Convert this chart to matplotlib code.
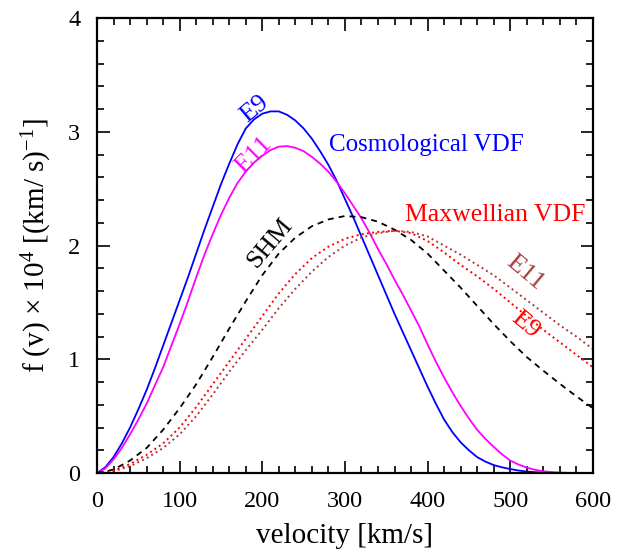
import numpy as np
import matplotlib
matplotlib.use('Agg')
import matplotlib.pyplot as plt
from matplotlib.ticker import MultipleLocator

plt.rcParams['font.family'] = ['Liberation Serif', 'DejaVu Serif']
plt.rcParams['mathtext.fontset'] = 'custom'
plt.rcParams['mathtext.rm'] = 'Liberation Serif'
plt.rcParams['mathtext.it'] = 'Liberation Serif:italic'

# fine velocity grid (km/s) for the cosmological curves
VEL_FINE = [0, 10, 20, 30, 40, 50, 60, 70, 80, 90, 100, 110, 120, 130, 140,
            150, 160, 170, 180, 190, 200, 210, 220, 230, 240, 250, 260, 270,
            280, 290, 300, 310, 320, 330, 340, 350, 360, 370, 380, 390, 400,
            410, 420, 430, 440, 450, 460, 470, 480, 490, 500, 510, 520, 530,
            540, 550, 560, 570, 580, 590, 600]
# coarser grid for the SHM / Maxwellian curves
VEL = [0, 20, 40, 60, 80, 100, 120, 140, 160, 180, 200, 220, 240, 260, 280,
       300, 320, 340, 360, 380, 400, 420, 440, 460, 480, 500, 520, 540, 560,
       580, 600]

# f(v) x 10^4 values
COSMO_E9 = [0, 0.05, 0.14, 0.26, 0.40, 0.56, 0.73, 0.92, 1.12, 1.32, 1.52,
            1.72, 1.93, 2.14, 2.34, 2.54, 2.72, 2.89, 3.03, 3.11, 3.16, 3.18,
            3.18, 3.15, 3.10, 3.03, 2.94, 2.83, 2.71, 2.57, 2.41, 2.25, 2.08,
            1.91, 1.74, 1.57, 1.40, 1.24, 1.08, 0.92, 0.76, 0.61, 0.47, 0.36,
            0.27, 0.20, 0.14, 0.10, 0.07, 0.05, 0.035, 0.022, 0.013, 0.007,
            0.003, 0.001, 0, 0, 0, 0, 0]
COSMO_E11 = [0, 0.04, 0.12, 0.22, 0.34, 0.47, 0.61, 0.77, 0.93, 1.12, 1.31,
             1.51, 1.72, 1.92, 2.10, 2.27, 2.42, 2.55, 2.65, 2.73, 2.79, 2.84,
             2.87, 2.875, 2.86, 2.83, 2.78, 2.72, 2.65, 2.56, 2.46, 2.35,
             2.24, 2.11, 1.97, 1.84, 1.70, 1.57, 1.43, 1.29, 1.13, 0.98, 0.84,
             0.71, 0.59, 0.48, 0.38, 0.30, 0.23, 0.165, 0.11, 0.075, 0.048,
             0.028, 0.015, 0.008, 0.004, 0.001, 0, 0, 0]
SHM = [0, 0.03, 0.11, 0.22, 0.38, 0.57, 0.78, 1.02, 1.27, 1.51, 1.74, 1.93,
       2.07, 2.17, 2.23, 2.26, 2.25, 2.21, 2.14, 2.05, 1.93, 1.78, 1.63, 1.47,
       1.31, 1.16, 1.02, 0.90, 0.785, 0.675, 0.57]
MAXW_E9 = [0, 0.02, 0.08, 0.16, 0.26, 0.40, 0.58, 0.78, 0.98, 1.18, 1.38,
           1.58, 1.75, 1.89, 1.99, 2.06, 2.10, 2.12, 2.13, 2.11, 2.04, 1.94,
           1.83, 1.73, 1.62, 1.50, 1.38, 1.26, 1.15, 1.04, 0.93]
MAXW_E11 = [0, 0.015, 0.06, 0.13, 0.22, 0.34, 0.50, 0.69, 0.89, 1.08, 1.26,
            1.45, 1.62, 1.77, 1.90, 2.00, 2.07, 2.11, 2.13, 2.12, 2.08, 2.00,
            1.92, 1.83, 1.74, 1.63, 1.52, 1.41, 1.30, 1.20, 1.09]

BROWN = '#a83c3c'

fig = plt.figure(figsize=(6.26, 5.5), dpi=100)
ax = fig.add_axes([0.155, 0.14, 0.792, 0.827])

ax.plot(VEL_FINE, COSMO_E9, color='#0000ff', lw=1.3)
ax.plot(VEL_FINE, COSMO_E11, color='#ff00ff', lw=1.3)
ax.plot(VEL, SHM, color='black', lw=1.3, linestyle=(0, (3.3, 2.8)))
ax.plot(VEL, MAXW_E11, color=BROWN, lw=1.4, linestyle=(0, (1, 1.7)))
ax.plot(VEL, MAXW_E9, color='#ff0000', lw=1.4, linestyle=(0, (1, 1.7)))

ax.set_xlim(0, 600)
ax.set_ylim(0, 4)
ax.xaxis.set_major_locator(MultipleLocator(100))
ax.xaxis.set_minor_locator(MultipleLocator(20))
ax.yaxis.set_major_locator(MultipleLocator(1))
ax.yaxis.set_minor_locator(MultipleLocator(0.2))
ax.tick_params(which='both', direction='in', top=True, right=True,
               labelsize=17.5, width=1.2)
ax.tick_params(which='major', length=9)
ax.tick_params(which='minor', length=5)
ax.tick_params(axis='x', which='major', pad=13)
ax.tick_params(axis='y', which='major', pad=12)
for sp in ax.spines.values():
    sp.set_linewidth(1.6)

ax.set_xlabel('velocity [km/s]', fontsize=21, labelpad=8)
ax.set_ylabel(r'f (v) $\times$ 10$^4$ [(km/ s)$^{-1}$]', fontsize=21,
              labelpad=10)

# curve annotations
ax.text(191, 3.20, 'E9', color='#0000ff', fontsize=19, rotation=40,
        ha='center', va='center')
ax.text(190, 2.80, 'E11', color='#ff00ff', fontsize=19, rotation=45,
        ha='center', va='center')
ax.text(281, 2.83, 'Cosmological VDF', color='#0000ff', fontsize=18,
        ha='left', va='baseline')
ax.text(373, 2.22, 'Maxwellian VDF', color='#ff0000', fontsize=18.5,
        ha='left', va='baseline')
ax.text(209, 2.02, 'SHM', color='black', fontsize=19, rotation=50,
        ha='center', va='center')
ax.text(518, 1.76, 'E11', color=BROWN, fontsize=19, rotation=-40,
        ha='center', va='center')
ax.text(518, 1.30, 'E9', color='#ff0000', fontsize=19, rotation=-40,
        ha='center', va='center')

fig.savefig('out.png', dpi=100)
